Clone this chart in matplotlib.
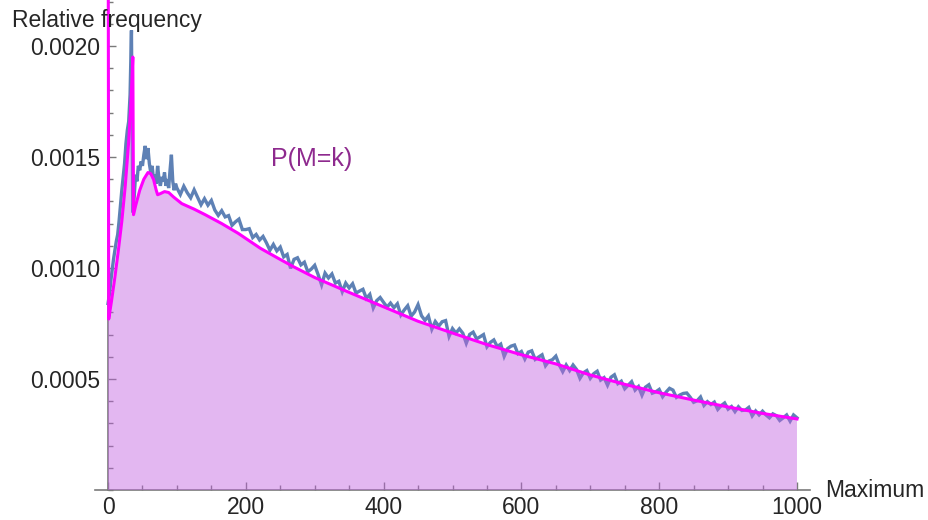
import numpy as np
import matplotlib
matplotlib.use("Agg")
import matplotlib.pyplot as plt
from matplotlib.ticker import MultipleLocator

# Simulated relative frequency of the maximum (values in millionths)
sim_k_early = np.arange(0, 100, 2)
sim_freq_early = [
    840, 880, 940, 990, 1040, 1080, 1120, 1150, 1210, 1280,
    1350, 1410, 1470, 1560, 1620, 1660, 1780, 2070, 1250, 1320,
    1420, 1390, 1460, 1440, 1480, 1460, 1510, 1550, 1490, 1540,
    1470, 1430, 1460, 1400, 1420, 1380, 1460, 1400, 1370, 1410,
    1390, 1430, 1370, 1400, 1360, 1440, 1510, 1390, 1350, 1380,
]
sim_k_late = np.arange(100, 1001, 5)
sim_freq_late = [
    1360, 1331, 1368, 1339, 1316, 1352, 1319, 1285, 1312, 1283,
    1304, 1261, 1237, 1258, 1230, 1236, 1192, 1208, 1220, 1173,
    1173, 1177, 1137, 1151, 1126,
    1142, 1113, 1080, 1106, 1077, 1094, 1050, 1061, 998, 1039,
    1046, 1014, 1026, 983, 995, 1012,
    970, 924, 977, 955, 973, 932, 940, 893, 932, 910,
    929, 887, 896, 904, 863, 881, 820, 853, 867, 845,
    824, 842, 821, 839, 788, 811, 830, 783, 802, 835,
    785, 764, 784, 724, 759, 738, 758, 763, 692, 727,
    707, 726, 706, 661, 701, 711, 681, 690, 700, 645,
    665, 676, 646, 657, 602, 637, 648, 653, 614, 624,
    590, 621, 627, 588, 599, 609, 560, 581, 587, 603,
    563, 533, 563, 538, 563, 543, 503, 528, 538, 503,
    524, 535, 495, 506, 472, 508, 519, 479, 490, 456,
    472, 488, 450, 466, 427, 463, 474, 436, 442, 453,
    420, 441, 458, 450, 417, 428, 435, 437, 418, 395,
    402, 419, 381, 398, 385, 396, 363, 380, 392, 364,
    376, 353, 375, 358, 360, 372, 334, 356, 338, 355,
    338, 325, 343, 335, 313, 325, 338, 310, 338, 325,
]

# Exact distribution P(M=k) (values in millionths)
exact_k = [0, 1, 5, 10, 15, 20, 25, 30, 33, 35,
           36, 37, 40, 46, 52, 58, 62, 66, 70, 72,
           76, 82, 88, 95, 107, 125, 141, 165, 189, 221,
           245, 269, 300, 350, 400, 450, 500, 550, 600, 650,
           700, 750, 800, 850, 900, 950, 1000]
exact_p = [3200, 770, 850, 960, 1080, 1210, 1370, 1570, 1730, 1870,
           1950, 1240, 1280, 1350, 1400, 1430, 1425, 1400, 1350, 1330,
           1335, 1344, 1340, 1320, 1290, 1265, 1240, 1200, 1156, 1089,
           1047, 1006, 957, 890, 825, 760, 707, 655, 609, 568,
           518, 476, 438, 405, 374, 345, 320]

x_ticks = [0, 200, 400, 600, 800, 1000]
y_ticks = [0.0005, 0.0010, 0.0015, 0.0020]
y_tick_labels = ["0.0005", "0.0010", "0.0015", "0.0020"]

MILLIONTH = 1e-6
sim_k = np.concatenate([sim_k_early, sim_k_late])
sim_freq = np.array(sim_freq_early + sim_freq_late) * MILLIONTH
exact_k = np.array(exact_k)
exact_p = np.array(exact_p) * MILLIONTH

plt.rcParams["font.family"] = ["Liberation Sans", "DejaVu Sans"]
W, H = 929, 520
fig = plt.figure(figsize=(W / 100, H / 100), dpi=100)
ax = fig.add_axes([95 / W, 30 / H, 715 / W, 490 / H])

blue = "#5E81B5"
ax.plot(sim_k, sim_freq, color=blue, lw=2.4, zorder=2,
        solid_joinstyle="miter")
ax.fill_between(exact_k, 0, exact_p, color=(193 / 255, 97 / 255, 224 / 255),
                alpha=0.45, lw=0, zorder=3)
ax.plot(exact_k, exact_p, color="#FF00FF", lw=2.2, zorder=4,
        solid_joinstyle="round")

ax.set_xlim(-18.9, 1018.9)
ax.set_ylim(0, 0.002207)

for s in ("top", "right"):
    ax.spines[s].set_visible(False)
ax.spines["left"].set_position(("data", 0))
axis_col = "#7a7a7a"
for s in ("left", "bottom"):
    ax.spines[s].set_color(axis_col)
    ax.spines[s].set_linewidth(1.2)

ax.set_xticks(x_ticks)
ax.set_xticklabels([str(v) for v in x_ticks])
ax.xaxis.set_minor_locator(MultipleLocator(50))
ax.set_yticks(y_ticks)
ax.set_yticklabels(y_tick_labels)
ax.yaxis.set_minor_locator(MultipleLocator(0.0001))

lab_col = "#262626"
ax.tick_params(axis="both", which="major", direction="in", length=5.5,
               width=1.0, color=axis_col, labelsize=16.5, labelcolor=lab_col)
ax.tick_params(axis="both", which="minor", direction="in", length=3.5,
               width=1.0, color=axis_col)
ax.tick_params(axis="x", which="major", pad=4.3)
ax.tick_params(axis="y", which="major", pad=5.8)

fig.text(12 / W, 1 - 27 / H, "Relative frequency", fontsize=16.5,
         color=lab_col, ha="left", va="baseline", zorder=10)
fig.text(825 / W, 1 - 497 / H, "Maximum", fontsize=16.5,
         color=lab_col, ha="left", va="baseline")
ax.text(237, 0.00146, "P(M=k)", fontsize=18, color="#8E2A8E",
        ha="left", va="baseline", zorder=6)

fig.savefig("out.png", dpi=100)
